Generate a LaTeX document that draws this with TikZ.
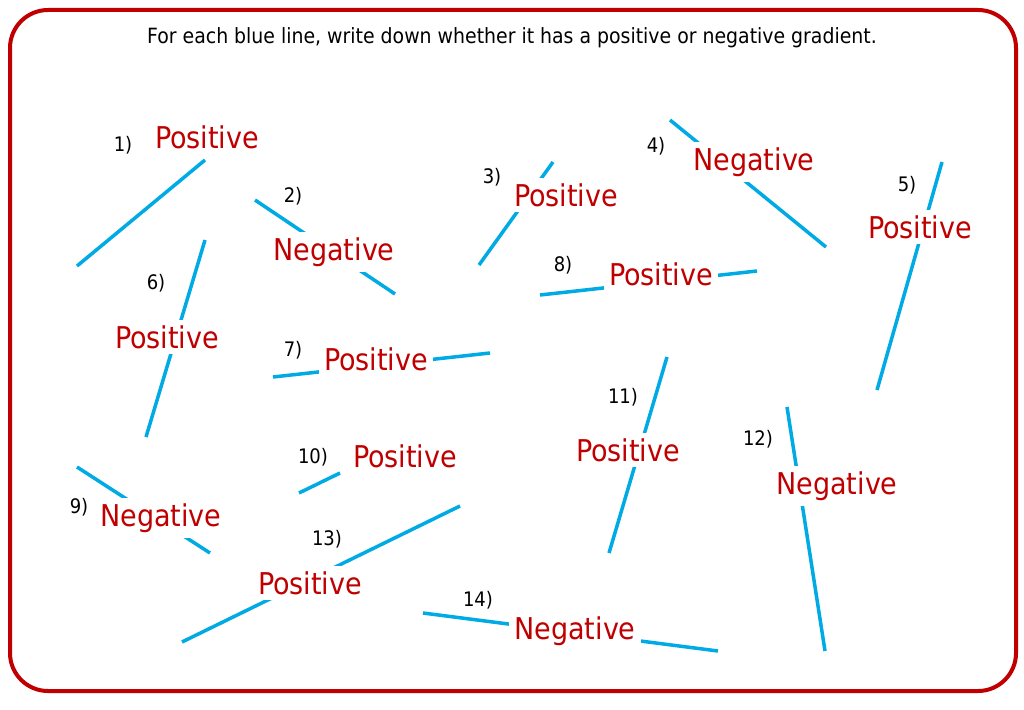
\documentclass[tikz,border=0pt]{standalone}
\usepackage{fontspec}
\setmainfont{DejaVu Sans Condensed}
\definecolor{lblue}{RGB}{0,170,228}
\definecolor{ans}{RGB}{192,0,0}
\begin{document}
\begin{tikzpicture}[x=1pt,y=-1pt,
  gl/.style={lblue,line width=3.5pt},
  an/.style={fill=white,text=ans,font=\fontsize{30}{32}\selectfont,inner sep=5pt},
  nm/.style={font=\fontsize{20}{22}\selectfont,inner sep=1pt}]
\useasboundingbox (0,0) rectangle (1024,709);
\draw[ans,line width=4pt,rounded corners=38pt,fill=white] (10,10) rectangle (1016,691);
\node[font=\fontsize{21}{23}\selectfont] (title) at (512,38) {For each blue line, write down whether it has a positive or negative gradient.};
% lines
\draw[gl] (77,266) -- (205,160);
\draw[gl] (255,200) -- (395,294);
\draw[gl] (479,265) -- (553,162);
\draw[gl] (670,120) -- (826,247);
\draw[gl] (942,162) -- (877,390);
\draw[gl] (205,240) -- (146,437);
\draw[gl] (273,377) -- (490,353);
\draw[gl] (540,295) -- (757,271);
\draw[gl] (77,467) -- (210,553);
\draw[gl] (299,493) -- (340,473);
\draw[gl] (667,357) -- (609,553);
\draw[gl] (787,407) -- (825,651);
\draw[gl] (182,642) -- (460,506);
\draw[gl] (423,613) -- (718,651);
% answers
\node[an] (a1) at (207,137) {Positive};
\node[an] (a2) at (334,252) {Negative};
\node[an] (a3) at (566,195) {Positive};
\node[an] (a4) at (754,162) {Negative};
\node[an] (a5) at (920,227) {Positive};
\node[an] (a6) at (167,337) {Positive};
\node[an] (a7) at (376,359) {Positive};
\node[an] (a8) at (661,274) {Positive};
\node[an] (a9) at (161,518) {Negative};
\node[an] (a10) at (405,456) {Positive};
\node[an] (a11) at (628,450) {Positive};
\node[an] (a12) at (837,486) {Negative};
\node[an] (a13) at (310,583) {Positive};
\node[an] (a14) at (575,631) {Negative};
% numbers
\node[nm] (n1) at (123,145) {1)};
\node[nm] (n2) at (293,196) {2)};
\node[nm] (n3) at (492,177) {3)};
\node[nm] (n4) at (656,146) {4)};
\node[nm] (n5) at (907,185) {5)};
\node[nm] (n6) at (156,283) {6)};
\node[nm] (n7) at (293,350) {7)};
\node[nm] (n8) at (563,265) {8)};
\node[nm] (n9) at (79,507) {9)};
\node[nm] (n10) at (313,457) {10)};
\node[nm] (n11) at (623,397) {11)};
\node[nm] (n12) at (758,439) {12)};
\node[nm] (n13) at (327,539) {13)};
\node[nm] (n14) at (478,600) {14)};
\end{tikzpicture}
\end{document}
